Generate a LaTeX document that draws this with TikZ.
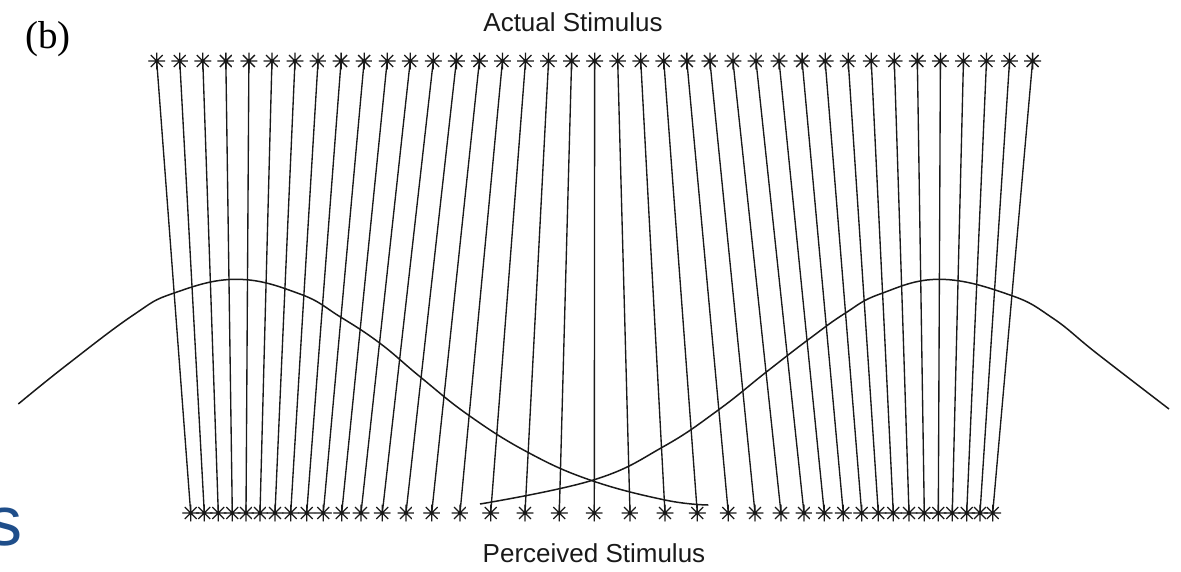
\documentclass[tikz,border=0pt]{standalone}
\usepackage{fontspec}
\setmainfont{Liberation Serif}
\newfontfamily\labelfont{Liberation Sans}
\definecolor{titleblue}{RGB}{31,78,138}
\begin{document}
\begin{tikzpicture}[x=1pt,y=-1pt,
  asterisk/.style={circle, inner sep=0pt, minimum size=17pt, path picture={
    \draw[line width=1.3pt, black!90]
      (path picture bounding box.west) -- (path picture bounding box.east)
      (path picture bounding box.north) -- (path picture bounding box.south)
      (path picture bounding box.north west) -- (path picture bounding box.south east)
      (path picture bounding box.north east) -- (path picture bounding box.south west);}},
  link/.style={line width=1.35pt, black!90},
  curve/.style={line width=1.5pt, black!90},
  caption/.style={font=\labelfont\fontsize{26}{30}\selectfont, inner sep=0pt, text=black!90}]
\useasboundingbox (0,0) rectangle (1181,571);
% labels
\node[caption, anchor=base] (actual) at (573,31) {Actual Stimulus};
\node[caption, anchor=base] (perceived) at (594,562) {Perceived Stimulus};
\node[font=\fontsize{39}{44}\selectfont, anchor=base west, inner sep=0pt] (panel) at (25,48) {(b)};
\node[font=\labelfont\fontsize{70}{80}\selectfont, text=titleblue, anchor=base east, inner sep=0pt] (title) at (23,545) {s};
% actual stimuli
\foreach \i in {0,...,38}
  \node[asterisk] (t\i) at ({156.7+23.05*\i},61) {};
% perceived stimuli
\foreach \x [count=\i from 0] in {190.7,204.3,218.3,232.3,246,260,275,290.7,306.7,323.3,341.7,361,382.3,406,431.7,460,490.7,525,559.3,594.3,630,665,697.3,728.3,755,781,804,824.3,843.3,861.7,878.3,893.3,909,924.3,938.3,952.3,966.7,980,992.7}
  \node[asterisk] (b\i) at (\x,513) {};
% mapping lines
\foreach \i in {0,...,38}
  \draw[link] (t\i.center) -- (b\i.center);
% left tuning curve
\draw[curve] plot[smooth, tension=0.7] coordinates {(18.3,404) (66.7,365) (133.3,315) (173.3,293.3) (237,279.3) (300,294) (340,316.7) (380,343.3) (420,376.7) (468.3,415) (526.7,451.7) (590,480) (665,500) (708.3,505)};
% right tuning curve
\draw[curve] plot[smooth, tension=0.7] coordinates {(480,504) (593.3,480) (663.3,446.7) (718.3,410) (766.7,371.7) (810,338.3) (845,313.3) (880,294) (940,279.3) (1010,295) (1053,318.3) (1096.7,353.3) (1169,409)};
\end{tikzpicture}
\end{document}
